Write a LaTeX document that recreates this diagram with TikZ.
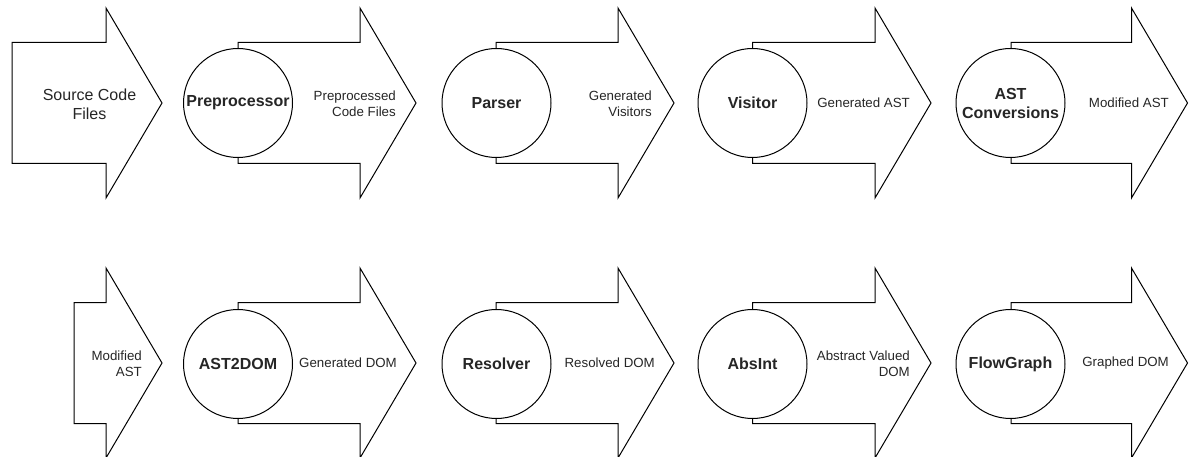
\documentclass[tikz,border=0pt]{standalone}
\usepackage{fontspec}
\setmainfont{Liberation Sans}

% arrow shape: start x, tip x, centre y
\newcommand{\flowArrow}[3]{%
  \draw[arrowStyle] (#1,#3-60.5) -- (#2-56,#3-60.5) -- (#2-56,#3-95) -- (#2,#3)
    -- (#2-56,#3+95) -- (#2-56,#3+60.5) -- (#1,#3+60.5) -- cycle;}

\begin{document}
\begin{tikzpicture}[x=1pt, y=-1pt,
    arrowStyle/.style={draw=black, fill=white, line width=1pt},
    stageStyle/.style={circle, draw=black, fill=white, line width=1pt, minimum size=109pt, inner sep=0pt,
        align=center, text=black!85, font=\bfseries\fontsize{16}{19}\selectfont},
    labelStyle/.style={anchor=east, align=right, inner sep=0pt, text=black!85,
        font=\fontsize{13.3}{16}\selectfont}]
    \useasboundingbox (0,0) rectangle (1189,457);

    % first row
    \flowArrow{12}{162}{103}
    \flowArrow{238}{416}{103}
    \flowArrow{496}{674}{103}
    \flowArrow{752.5}{931}{103}
    \flowArrow{1011}{1187.5}{103}

    \node[align=center, inner sep=0pt, text=black!85, font=\fontsize{16}{19}\selectfont](src) at (89.5, 104) {Source Code\\Files};
    \node[stageStyle](pre) at (238, 103) {Preprocessor};
    \node[stageStyle](parse) at (496.5, 103) {Parser};
    \node[stageStyle](visit) at (752.5, 103) {Visitor};
    \node[stageStyle](conv) at (1010.5, 103) {AST\\Conversions};

    \node[labelStyle](preOut) at (396, 104) {Preprocessed\\Code Files};
    \node[labelStyle](parseOut) at (652, 104) {Generated\\Visitors};
    \node[labelStyle](visitOut) at (910, 103) {Generated AST};
    \node[labelStyle](convOut) at (1169, 103) {Modified AST};

    % second row
    \flowArrow{74}{162}{363}
    \flowArrow{238}{416}{363}
    \flowArrow{496}{674}{363}
    \flowArrow{752.5}{931}{363}
    \flowArrow{1011}{1187.5}{363}

    \node[labelStyle](modIn) at (142, 364) {Modified\\AST};
    \node[stageStyle](dom) at (238, 364) {AST2DOM};
    \node[stageStyle](resolve) at (496.5, 364) {Resolver};
    \node[stageStyle](absint) at (752.5, 364) {AbsInt};
    \node[stageStyle](flow) at (1010.5, 364) {FlowGraph};

    \node[labelStyle](domOut) at (397, 363) {Generated DOM};
    \node[labelStyle](resolveOut) at (655, 363) {Resolved DOM};
    \node[labelStyle](absintOut) at (910, 364) {Abstract Valued\\DOM};
    \node[labelStyle](flowOut) at (1169, 363) {Graphed DOM};
\end{tikzpicture}
\end{document}
